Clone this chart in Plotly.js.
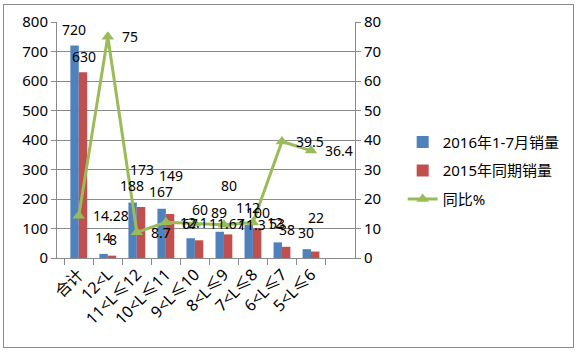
<!DOCTYPE html>
<html>
<head>
<meta charset="utf-8">
<script src="https://cdn.plot.ly/plotly-3.0.1.min.js"></script>
<style>
  html, body { margin: 0; padding: 0; background: #fff; }
  #chart { width: 582px; height: 352px; }
  #frame { position: absolute; left: 3px; top: 4px; width: 569px; height: 342px; border: 1px solid #8c8c8c; pointer-events: none; }
</style>
</head>
<body>
<div id="chart"></div>
<div id="frame"></div>
<script>
const categories = ["合计", "12<L", "11<L≤12", "10<L≤11", "9<L≤10", "8<L≤9", "7<L≤8", "6<L≤7", "5<L≤6"];
const sales2016 = [720, 14, 188, 167, 67, 89, 112, 53, 30];
const sales2015 = [630, 8, 173, 149, 60, 80, 100, 38, 22];
const yoyPct = [14.28, 75, 8.7, 12.1, 11.67, 11.3, 12, 39.5, 36.4];
const seriesNames = ["2016年1-7月销量", "2015年同期销量", "同比%"];

// label placement (pixels), styling only
const blueShift = [16, 16, 17, 17, 15, 19, 17, 19, 17];
const redShift = [16, 16, 37, 39, 31, 49, 16, 17, 34];

const FONT = "Noto Sans, Noto Sans CJK SC, sans-serif";
const BLUE = "#4F81BD", RED = "#C0504D", GREEN = "#9BBB59", GRID = "#8a8a8a";

const traces = [
  { type: "bar", name: seriesNames[0], x: categories, y: sales2016, marker: { color: BLUE }, legendgroup: "a", hoverinfo: "none" },
  { type: "bar", name: seriesNames[1], x: categories, y: sales2015, marker: { color: RED }, legendgroup: "b", hoverinfo: "none" },
  { type: "scatter", mode: "lines+markers", name: seriesNames[2], x: categories, y: yoyPct, yaxis: "y2",
    line: { color: GREEN, width: 3 }, marker: { symbol: "triangle-up", size: 11, color: GREEN }, legendgroup: "c", hoverinfo: "none" }
];

const annotations = [];
categories.forEach((c, i) => {
  annotations.push({ x: c, y: sales2016[i], xref: "x", yref: "y", text: String(sales2016[i]), showarrow: false,
    xshift: -4.8, yshift: blueShift[i], yanchor: "middle", font: { family: FONT, size: 14, color: "#000" } });
  annotations.push({ x: c, y: sales2015[i], xref: "x", yref: "y", text: String(sales2015[i]), showarrow: false,
    xshift: 4.8, yshift: redShift[i], yanchor: "middle", font: { family: FONT, size: 14, color: "#000" } });
  annotations.push({ x: c, y: yoyPct[i], xref: "x", yref: "y2", text: String(yoyPct[i]), showarrow: false,
    xanchor: "left", xshift: 12, yanchor: "middle", font: { family: FONT, size: 14, color: "#000" } });
});

const layout = {
  width: 582, height: 352,
  margin: { l: 57, r: 227, t: 22, b: 94 },
  paper_bgcolor: "#fff", plot_bgcolor: "#fff",
  font: { family: FONT, size: 14, color: "#000" },
  barmode: "group", bargap: 0.42, bargroupgap: 0,
  showlegend: true,
  legend: { x: 1.16, xanchor: "left", y: 0.56, yanchor: "top", tracegroupgap: 6,
            font: { family: FONT, size: 15, color: "#000" }, bgcolor: "rgba(0,0,0,0)" },
  xaxis: { type: "category", tickangle: -45, showline: true, linecolor: GRID, linewidth: 1,
           ticks: "outside", tickson: "boundaries", ticklen: 6, tickcolor: GRID,
           showgrid: false, tickfont: { family: FONT, size: 16, color: "#000" } },
  yaxis: { range: [0, 800], dtick: 100, showgrid: true, gridcolor: GRID, gridwidth: 1,
           showline: true, linecolor: GRID, ticks: "outside", ticklen: 5, tickcolor: GRID,
           zeroline: false, tickfont: { family: FONT, size: 15, color: "#000" } },
  yaxis2: { range: [0, 80], dtick: 10, overlaying: "y", side: "right", showgrid: false,
            showline: true, linecolor: GRID, ticks: "outside", ticklen: 5, tickcolor: GRID,
            zeroline: false, tickfont: { family: FONT, size: 15, color: "#000" } },
  annotations: annotations
};

Plotly.newPlot("chart", traces, layout, { displayModeBar: false, staticPlot: true });
</script>
</body>
</html>
